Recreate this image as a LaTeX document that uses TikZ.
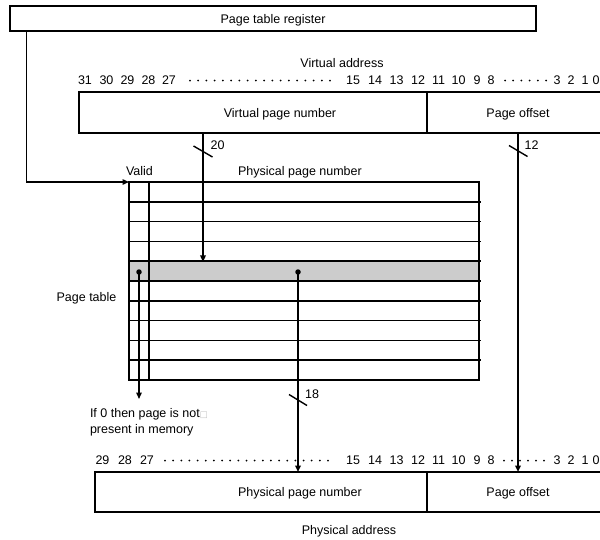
\documentclass[tikz,border=0pt]{standalone}
\usepackage{fontspec}
\setmainfont{Liberation Sans}
\newfontfamily\symfont{DejaVu Sans}
\usetikzlibrary{arrows.meta}
\begin{document}
\begin{tikzpicture}[x=1pt,y=-1pt,
  every node/.style={font=\fontsize{12.5}{16}\selectfont, inner sep=0pt, outer sep=0pt},
  lbl/.style={anchor=base},
  boxrect/.style={draw, line width=1.3pt, anchor=north west},
  tblline/.style={line width=1.7pt},
  thinline/.style={line width=1.4pt},
  bus/.style={line width=2.4pt},
  tipA/.style={-{Triangle[length=6.5pt,width=5.5pt]}},
  slashline/.style={line width=1.4pt},
  bitdot/.style={fill=black, circle, minimum size=2pt},
  bigdot/.style={fill=black, circle, minimum size=5.5pt}
]
% bounding box
\path[use as bounding box] (0,0) rectangle (600,539);

% page table register
\node[boxrect, minimum width=526pt, minimum height=25pt] (ptr) at (10,6) {};
\node[lbl] (ptrl) at (273,23) {Page table register};

% virtual address
\node[lbl] (val) at (342,67) {Virtual address};
\foreach \n/\x in {31/85,30/106.5,29/127.5,28/148.5,27/169,15/353,14/375,13/396.5,12/418,11/438.5,10/458.5,9/477,8/491,3/557,2/571,1/585,0/596}
  \node[lbl] (vb\n) at (\x,84) {\n};
\foreach \i in {0,...,17}
  \node[bitdot] (vd\i) at (190+8.235*\i,80.5) {};
\foreach \i in {0,...,5}
  \node[bitdot] (vr\i) at (505+8.2*\i,80.5) {};
\node[boxrect, minimum width=348pt, minimum height=41pt] (vpn) at (79,92) {};
\node[boxrect, minimum width=190pt, minimum height=41pt] (voff) at (427,92) {};
\node[lbl] (vpnl) at (280,117) {Virtual page number};
\node[lbl] (voffl) at (518,117) {Page offset};

% page table
\node[lbl] (validl) at (139.5,175) {Valid};
\node[lbl] (ppnhead) at (300,175) {Physical page number};
\node[lbl] (ptl) at (86.5,301) {Page table};
\node[fill=black!20, minimum width=351pt, minimum height=19.8pt, anchor=north west] (entry) at (129,261.9) {};
\node[draw, line width=1.5pt, minimum width=350pt, minimum height=198pt, anchor=north west] (table) at (129,182) {};
\foreach \i in {1,...,9}
  \draw[tblline] (129,182+19.8*\i) -- (481,182+19.8*\i);
\draw[tblline] (149,182) -- (149,380);

% dots in selected entry
\node[bigdot] (vdot) at (139,272) {};
\node[bigdot] (pdot) at (298,272) {};

% physical address
\foreach \n/\x in {29/102.5,28/125,27/147,15/353,14/375,13/396.5,12/418,11/438.5,10/458.5,9/477,8/491,3/557,2/571,1/585,0/596}
  \node[lbl] (pb\n) at (\x,464) {\n};
\foreach \i in {0,...,20}
  \node[bitdot] (pd\i) at (165+8.15*\i,460.5) {};
\foreach \i in {0,...,5}
  \node[bitdot] (pr\i) at (504+8.0*\i,460.5) {};
\node[boxrect, minimum width=332pt, minimum height=40pt] (ppn) at (95,472) {};
\node[boxrect, minimum width=190pt, minimum height=40pt] (poff) at (427,472) {};
\node[lbl] (ppnl) at (300,496.5) {Physical page number};
\node[lbl] (poffl) at (518,496.5) {Page offset};
\node[lbl] (pal) at (349,534) {Physical address};

% note
\node[anchor=base west] (note1) at (90,417) {If 0 then page is not{\symfont\fontsize{8.5}{9}\selectfont\color{black!25}□}};
\node[anchor=base west] (note2) at (90,433) {present in memory};

% connectors
\coordinate (ptrout) at (26.5,31);
\draw[thinline, tipA] (ptrout) |- (table.north west);

\coordinate (vpnout) at (203,133);
\draw[bus, tipA] (vpnout) -- (vpnout |- entry.north);
\draw[slashline] (193.5,146) -- (212.5,157);
\node[lbl] (w20) at (217.5,149) {20};

\coordinate (voffout) at (518,133);
\draw[bus, tipA] (voffout) -- (voffout |- poff.north);
\draw[slashline] (509,145.5) -- (527.5,156.5);
\node[lbl] (w12) at (531.5,149) {12};

\coordinate (validend) at (139,399);
\draw[thinline, tipA] (vdot.center) -- (validend);

\draw[bus, tipA] (pdot.center) -- (pdot.center |- ppn.north);
\draw[slashline] (289,394.5) -- (307,405.5);
\node[lbl] (w18) at (312,398) {18};
\end{tikzpicture}
\end{document}
